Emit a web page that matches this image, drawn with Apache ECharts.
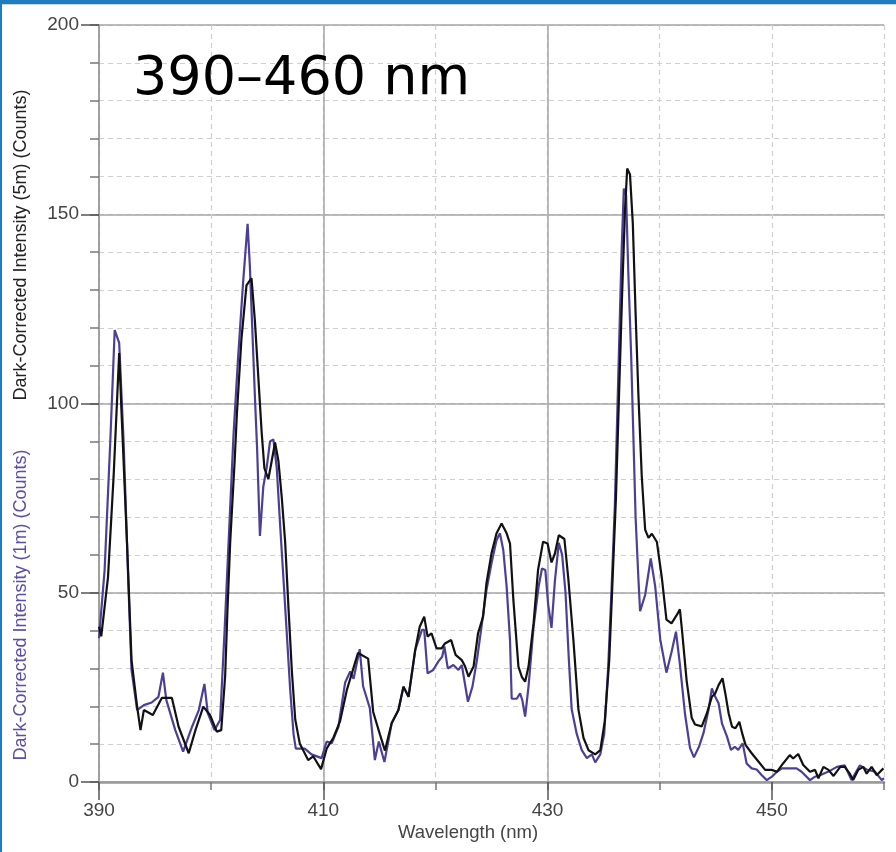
<!DOCTYPE html>
<html>
<head>
<meta charset="utf-8">
<script src="https://cdn.jsdelivr.net/npm/echarts@6/dist/echarts.min.js"></script>
<style>
html,body{margin:0;padding:0;background:#fff;}
#chart{width:896px;height:852px;}
</style>
</head>
<body>
<div id="chart"></div>
<script>
// ---- data ----
const wavelength1m = [390.0,390.5,391.0,391.4,391.8,392.2,392.6,392.9,393.4,394.0,394.7,395.3,395.7,396.0,396.8,397.5,398.3,398.9,399.4,399.7,400.3,400.8,401.2,401.55,402.0,402.4,402.85,403.25,403.45,403.9,404.1,404.35,404.65,404.95,405.25,405.55,405.85,406.15,406.45,406.75,407.05,407.35,407.55,408.35,408.95,409.85,410.3,410.75,411.35,411.95,412.4,412.7,413.25,413.55,414.15,414.6,414.95,415.45,416.1,416.7,417.15,417.6,418.2,418.8,419.0,419.3,419.8,420.25,420.6,420.8,421.1,421.6,422.05,422.35,422.9,423.3,423.7,424.15,424.55,425.0,425.45,425.75,426.05,426.35,426.65,426.8,427.25,427.55,427.75,428.0,428.3,428.75,429.2,429.5,429.8,430.05,430.35,430.65,431.0,431.3,431.6,431.9,432.15,432.6,433.05,433.5,433.95,434.25,434.7,435.05,435.4,435.7,436.0,436.3,436.6,436.8,437.0,437.2,437.45,437.65,437.85,438.1,438.25,438.7,439.2,439.6,440.05,440.6,441.05,441.45,441.8,442.25,442.7,443.05,443.5,443.9,444.35,444.65,444.95,445.25,445.55,446.0,446.35,446.7,447.0,447.4,447.75,448.2,448.65,449.1,449.55,450.0,450.45,450.9,452.2,452.65,453.4,453.85,454.3,455.2,455.8,456.5,457.1,457.85,458.45,459.2,459.8,460.0];
const counts1m = [38,56,89.5,119.4,116,89.5,54,29.6,19,20.3,21,22.5,28.9,21.7,13.7,8,14.6,19,25.9,18.2,13.7,16.4,40,63,92,112,132,147.5,136.5,102,88,65,78,83,90,90.5,83,68,53.6,39,24.3,12.6,8.8,8.8,7.3,6.3,10.7,10.2,14.6,26.3,29.2,27.3,35.1,25.3,19.5,5.8,10.7,5.3,15.5,19,25.2,22.5,34.9,40.2,40.2,28.7,29.6,31.8,33.1,35.8,30,30.9,29.6,30.9,21.2,25.2,32.2,41.9,50.7,57.8,63.9,65.7,61.3,51.6,37.5,22,22,23.4,21.6,17.3,25.2,41,51.6,56.4,56,47,40.7,53,63.2,60,50,32.2,19.2,12.7,8.4,6.3,7.3,5.2,7.3,12.7,30,50.5,73.1,106.6,140,156.8,155.1,134.6,113,91.5,69.9,53.7,45.1,49.4,59.1,51.6,37.6,28.9,34.3,39.7,31.1,18.1,9,6.5,9.3,12.9,19,24.7,22.5,20.8,15.5,12,8.5,9.3,8.5,10.2,4.9,3.6,3.3,1.8,0.5,1.4,2.7,3.6,3.6,2.7,0.5,1.4,1.8,3.0,4,4.4,0.5,4.4,3.3,2.7,0.5,1];

const wavelength5m = [390.0,390.2,390.8,391.3,391.8,392.0,392.5,392.9,393.4,393.7,394.0,394.8,395.6,396.5,397.1,398.0,398.6,399.3,399.9,400.5,400.9,401.25,401.45,401.7,402.1,402.3,402.7,403.15,403.6,403.9,404.2,404.5,404.75,405.1,405.4,405.7,406.0,406.3,406.6,406.9,407.2,407.5,407.9,408.65,409.1,409.8,410.3,410.9,411.5,412.1,412.7,413.1,414.0,414.45,415.05,415.5,416.1,416.7,417.15,417.6,418.2,418.6,419.0,419.3,419.65,420.1,420.55,420.85,421.4,421.8,422.35,422.65,422.95,423.4,423.8,424.25,424.55,425.0,425.45,425.9,426.35,426.65,426.95,427.4,427.7,428.0,428.3,428.75,429.15,429.6,430.0,430.35,430.65,431.0,431.5,431.85,432.3,432.75,433.2,433.65,434.25,434.7,435.1,435.5,435.8,436.1,436.35,436.65,436.9,437.1,437.35,437.6,437.85,438.1,438.4,438.7,439.0,439.3,439.75,440.2,440.6,441.05,441.5,441.8,442.0,442.4,442.85,443.15,443.75,444.2,444.65,444.95,445.25,445.6,445.85,446.15,446.45,446.75,447.1,447.35,447.65,448.2,448.8,449.4,450.0,450.45,451.0,451.6,451.9,452.35,452.8,453.4,453.85,454.15,454.6,455.05,455.5,456.1,456.5,456.95,457.25,457.7,458.15,458.45,458.9,459.35,459.65,459.95];
const counts5m = [41,38.5,54,80.6,113.3,98.3,63,32.2,19.9,13.7,19,17.7,22.2,22.2,14.6,7.6,13.7,19.9,17.7,13.3,13.7,28,45,63.4,85,97.5,117,131.2,133.1,121.9,107.3,92.6,82.9,80,84.8,89.7,84.8,75.1,63.4,45.8,29.2,16.5,10.2,5.8,6.8,3.4,8.8,11.7,16.1,24.3,30.2,34.1,32.6,18.5,12.6,8.3,15.6,19,25.2,22.5,34.9,41,43.7,38.4,39.3,35.3,35.3,36.6,37.5,33.6,32.2,30.5,27.8,30.5,39.3,43.7,52.5,60.4,65.7,68.3,65.7,63,48.1,30.5,27.8,26.5,30.5,41.9,56,63.5,63,58,60.3,65.2,64.2,53.7,37.6,19.2,11.7,8.4,7.3,8.4,16,32.2,53.7,75.3,100.1,129.2,150.8,162.1,160.5,147.6,123.8,102.3,80.7,66.7,64.5,65.6,63.4,53.7,42.9,41.9,44,45.6,39.7,26.8,17,15.2,14.7,18.1,22.5,23.4,25.6,27.4,23.4,18.1,14.6,14.2,15.9,12.9,9.8,7.6,5.4,3.2,3.2,2.7,4.9,7.1,6.2,7.4,4.5,2.7,3.2,1,4,3.2,1.6,4,4,2.2,0.5,3.2,4,2.2,4,1.8,2.7,3.6];

const xMajorTicks = [390, 410, 430, 450];
const titleText = '390–460 nm';
const xName = 'Wavelength (nm)';
const yName1m = 'Dark-Corrected Intensity (1m) (Counts)';
const yName5m = 'Dark-Corrected Intensity (5m) (Counts)';

const chart = echarts.init(document.getElementById('chart'), null, {renderer: 'canvas'});
const font = 'Liberation Sans, Arial, sans-serif';
const purple = '#4e3f96';

function pairs(xs, ys) { return xs.map((x, i) => [x, ys[i]]); }

const option = {
  animation: false,
  backgroundColor: '#ffffff',
  grid: {left: 99, right: 12, top: 25, bottom: 70, containLabel: false},
  xAxis: [
    {
      type: 'value', min: 390, max: 460, interval: 10, position: 'bottom',
      axisLine: {show: true, onZero: false, lineStyle: {color: '#999', width: 2.5}},
      axisTick: {show: true, length: 8, lineStyle: {color: '#777', width: 1.5}},
      axisLabel: {show: false},
      splitLine: {show: true, lineStyle: {color: '#cfcfcf', type: [5, 4], width: 1.2}}
    },
    {
      type: 'value', min: 390, max: 460, interval: 20, position: 'bottom',
      axisLine: {show: false, onZero: false},
      axisTick: {show: true, length: 18, customValues: xMajorTicks, lineStyle: {color: '#555', width: 1.5}},
      axisLabel: {show: true, margin: 19, customValues: xMajorTicks,
        formatter: v => (xMajorTicks.indexOf(v) >= 0 ? String(v) : ''),
        color: '#444', fontSize: 19, fontFamily: font},
      splitLine: {show: true, showMaxLine: false, lineStyle: {color: '#a6a6a6', width: 1.5}}
    }
  ],
  yAxis: [
    {
      type: 'value', min: 0, max: 200, interval: 10, position: 'left',
      axisLine: {show: true, onZero: false, lineStyle: {color: '#999', width: 1.5}},
      axisTick: {show: true, length: 9, lineStyle: {color: '#777', width: 1.5}},
      axisLabel: {show: false},
      splitLine: {show: true, lineStyle: {color: '#cfcfcf', type: [5, 4], width: 1.2}}
    },
    {
      type: 'value', min: 0, max: 200, interval: 50, position: 'left',
      axisLine: {show: false, onZero: false},
      axisTick: {show: true, length: 18, lineStyle: {color: '#555', width: 1.5}},
      axisLabel: {show: true, margin: 20, color: '#444', fontSize: 19, fontFamily: font},
      splitLine: {show: true, lineStyle: {color: '#a6a6a6', width: 1.5}}
    }
  ],
  series: [
    {
      name: '1m', type: 'line', xAxisIndex: 0, yAxisIndex: 0,
      data: pairs(wavelength1m, counts1m), showSymbol: false, symbol: 'none',
      lineStyle: {color: purple, width: 2.2}, z: 3
    },
    {
      name: '5m', type: 'line', xAxisIndex: 0, yAxisIndex: 0,
      data: pairs(wavelength5m, counts5m), showSymbol: false, symbol: 'none',
      lineStyle: {color: '#111111', width: 2.2}, z: 4
    }
  ],
  graphic: [
    {type: 'rect', shape: {x: 0, y: 0, width: 896, height: 4}, style: {fill: '#1f7dbd'}, z: 100},
    {type: 'rect', shape: {x: 0, y: 4, width: 896, height: 1}, style: {fill: '#c9d6e2'}, z: 100},
    {type: 'rect', shape: {x: 0, y: 0, width: 2, height: 852}, style: {fill: '#1f7dbd'}, z: 100},
    {type: 'text', x: 133, y: 80, z: 50,
      style: {text: titleText, fill: '#000', font: '54px "DejaVu Sans", sans-serif', textAlign: 'left', textVerticalAlign: 'middle'}},
    {type: 'text', x: 468, y: 833, z: 50,
      style: {text: xName, fill: '#444', font: '18.5px ' + font, textAlign: 'center', textVerticalAlign: 'middle'}},
    {type: 'text', x: 21, y: 605, rotation: Math.PI / 2, z: 50,
      style: {text: yName1m, fill: '#5a4fa6', font: '18px ' + font, textAlign: 'center', textVerticalAlign: 'middle'}},
    {type: 'text', x: 21, y: 245, rotation: Math.PI / 2, z: 50,
      style: {text: yName5m, fill: '#222', font: '18px ' + font, textAlign: 'center', textVerticalAlign: 'middle'}}
  ]
};
chart.setOption(option);
</script>
</body>
</html>
